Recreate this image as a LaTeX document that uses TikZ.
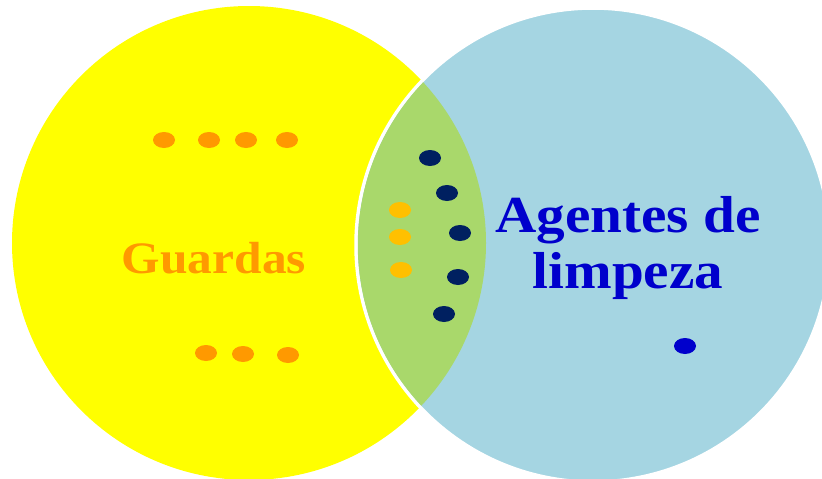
\documentclass[tikz,border=0pt]{standalone}
\usepackage{fontspec}
\setmainfont{Liberation Serif}
\newfontfamily\labelFont[FakeStretch = 1.1]{Liberation Serif}
\usetikzlibrary{shapes}

\definecolor{guardYellow}{HTML}{FFFF00}
\definecolor{cleanBlue}{HTML}{A5D5E2}
\definecolor{bothGreen}{HTML}{A9D86B}
\definecolor{guardOrange}{HTML}{FF9900}
\definecolor{bothGold}{HTML}{FFC000}
\definecolor{bothNavy}{HTML}{002060}
\definecolor{cleanText}{HTML}{0000CC}

\begin{document}
\begin{tikzpicture}[x = 1pt, y = -1pt]
	\tikzstyle{dotStyle} = [shape = ellipse, minimum width = 22pt, minimum height = 16pt, inner sep = 0pt]
	\tikzstyle{guardDot} = [dotStyle, fill = guardOrange]
	\tikzstyle{bothDot} = [dotStyle, fill = bothGold]
	\tikzstyle{cleanerDot} = [dotStyle, fill = bothNavy]
	\tikzstyle{onlyCleanerDot} = [dotStyle, fill = cleanText]
	\tikzstyle{labelStyle} = [anchor = base, inner sep = 0pt]
	\useasboundingbox (0, 0) rectangle (822, 479);
	% the two sets
	\fill[guardYellow] (249, 243) circle [radius = 237pt];
	\filldraw[fill = cleanBlue, draw = white, line width = 3.5pt] (593, 245) circle [radius = 237pt];
	\begin{scope}
		\clip (249, 243) circle [radius = 237pt];
		\fill[bothGreen] (593, 245) circle [radius = 235.2pt];
	\end{scope}
	% guards only
	\node[guardDot] (g1) at (164, 140) {};
	\node[guardDot] (g2) at (209, 140) {};
	\node[guardDot] (g3) at (246, 140) {};
	\node[guardDot] (g4) at (287, 140) {};
	\node[guardDot] (g5) at (206, 353) {};
	\node[guardDot] (g6) at (243, 354) {};
	\node[guardDot] (g7) at (288, 355) {};
	% both sets
	\node[bothDot] (b1) at (400, 210) {};
	\node[bothDot] (b2) at (400, 237) {};
	\node[bothDot] (b3) at (401, 270) {};
	\node[cleanerDot] (c1) at (430, 158) {};
	\node[cleanerDot] (c2) at (447, 193) {};
	\node[cleanerDot] (c3) at (460, 233) {};
	\node[cleanerDot] (c4) at (458, 277) {};
	\node[cleanerDot] (c5) at (444, 314) {};
	% cleaners only
	\node[onlyCleanerDot] (c6) at (685, 346) {};
	% labels
	\node[labelStyle, text = guardOrange, font = \labelFont\bfseries\fontsize{45}{49}\selectfont] (guardas) at (214, 273) {Guardas};
	\node[labelStyle, text = cleanText, font = \labelFont\bfseries\fontsize{52}{56}\selectfont] (agentes) at (628, 232) {Agentes de};
	\node[labelStyle, text = cleanText, font = \labelFont\bfseries\fontsize{52}{56}\selectfont] (limpeza) at (628, 288) {limpeza};
\end{tikzpicture}
\end{document}
